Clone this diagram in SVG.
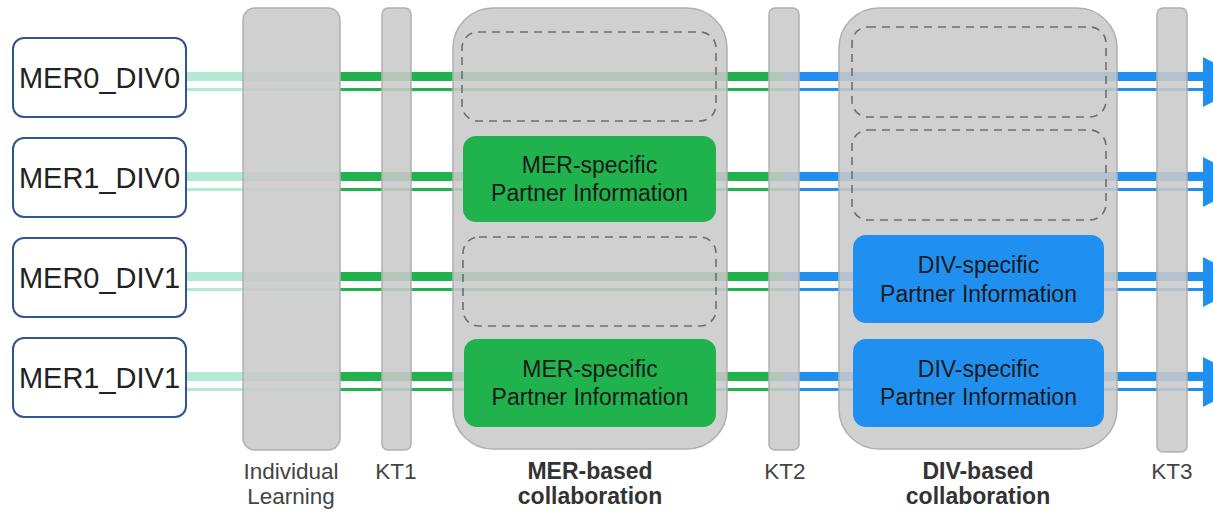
<svg xmlns="http://www.w3.org/2000/svg" width="1213" height="515" viewBox="0 0 1213 515">
<style>
.node{fill:#ffffff;stroke:#2f5597;stroke-width:2}
.nlabel{font-family:"Liberation Sans",Arial,sans-serif;font-size:29px;fill:#222;text-anchor:middle}
.col{fill:#c9c9c9;fill-opacity:0.87;stroke:#b0b0b0;stroke-width:1.5}
.dash{fill:none;stroke:#6e6e6e;stroke-width:1.6;stroke-dasharray:8 6}
.green{fill:#20b24c}
.blue{fill:#2090f0}
.blabel{font-family:"Liberation Sans",Arial,sans-serif;font-size:23px;fill:#1a1a1a;text-anchor:middle}
.cap{font-family:"Liberation Sans",Arial,sans-serif;font-size:22.5px;fill:#444;text-anchor:middle}
.capb{font-family:"Liberation Sans",Arial,sans-serif;font-size:23px;font-weight:bold;fill:#333;text-anchor:middle}
.mint{fill:#b4e9d4}
.lg{fill:#20b24c}
.lb{fill:#2090f0}
</style>
<g id="connectors">
  <g id="row0" transform="translate(0,77)">
    <rect class="mint" x="186" y="-5" width="154" height="9"/><rect class="mint" x="186" y="11" width="154" height="3"/>
    <rect class="lg" x="340" y="-5" width="444" height="9"/><rect class="lg" x="340" y="11" width="444" height="3"/>
    <rect class="lb" x="784" y="-5" width="420" height="9"/><rect class="lb" x="784" y="11" width="420" height="3"/>
    <polygon class="lb" points="1203,-20 1203,30 1250,5"/>
  </g>
  <g id="row1" transform="translate(0,177)">
    <rect class="mint" x="186" y="-5" width="154" height="9"/><rect class="mint" x="186" y="11" width="154" height="3"/>
    <rect class="lg" x="340" y="-5" width="444" height="9"/><rect class="lg" x="340" y="11" width="444" height="3"/>
    <rect class="lb" x="784" y="-5" width="420" height="9"/><rect class="lb" x="784" y="11" width="420" height="3"/>
    <polygon class="lb" points="1203,-20 1203,30 1250,5"/>
  </g>
  <g id="row2" transform="translate(0,277)">
    <rect class="mint" x="186" y="-5" width="154" height="9"/><rect class="mint" x="186" y="11" width="154" height="3"/>
    <rect class="lg" x="340" y="-5" width="444" height="9"/><rect class="lg" x="340" y="11" width="444" height="3"/>
    <rect class="lb" x="784" y="-5" width="420" height="9"/><rect class="lb" x="784" y="11" width="420" height="3"/>
    <polygon class="lb" points="1203,-20 1203,30 1250,5"/>
  </g>
  <g id="row3" transform="translate(0,377)">
    <rect class="mint" x="186" y="-5" width="154" height="9"/><rect class="mint" x="186" y="11" width="154" height="3"/>
    <rect class="lg" x="340" y="-5" width="444" height="9"/><rect class="lg" x="340" y="11" width="444" height="3"/>
    <rect class="lb" x="784" y="-5" width="420" height="9"/><rect class="lb" x="784" y="11" width="420" height="3"/>
    <polygon class="lb" points="1203,-20 1203,30 1250,5"/>
  </g>
</g>
<g id="n-mer0div0"><rect class="node" x="13" y="38" width="173" height="79" rx="11"/><text class="nlabel" x="99.5" y="87.5">MER0_DIV0</text></g>
<g id="n-mer1div0"><rect class="node" x="13" y="138" width="173" height="79" rx="11"/><text class="nlabel" x="99.5" y="187.5">MER1_DIV0</text></g>
<g id="n-mer0div1"><rect class="node" x="13" y="238" width="173" height="79" rx="11"/><text class="nlabel" x="99.5" y="287.5">MER0_DIV1</text></g>
<g id="n-mer1div1"><rect class="node" x="13" y="338" width="173" height="79" rx="11"/><text class="nlabel" x="99.5" y="387.5">MER1_DIV1</text></g>
<g id="individual-learning"><rect class="col" x="243" y="8" width="97" height="442" rx="12"/><text class="cap" x="291" y="479">Individual</text><text class="cap" x="291" y="504">Learning</text></g>
<g id="kt1"><rect class="col" x="382" y="8" width="29" height="442" rx="6"/><text class="cap" x="396" y="479">KT1</text></g>
<g id="mer-collab">
  <rect class="col" x="453" y="8" width="274" height="441" rx="40"/>
  <rect class="dash" x="462" y="32" width="254" height="89" rx="16"/>
  <rect class="green" x="463" y="136" width="253" height="86" rx="13"/>
  <text class="blabel" x="589.5" y="173">MER-specific</text><text class="blabel" x="589.5" y="201">Partner Information</text>
  <rect class="dash" x="463" y="237" width="253" height="89" rx="16"/>
  <rect class="green" x="464" y="339" width="252" height="88" rx="13"/>
  <text class="blabel" x="590" y="377">MER-specific</text><text class="blabel" x="590" y="405">Partner Information</text>
  <text class="capb" x="590" y="479">MER-based</text><text class="capb" x="590" y="504">collaboration</text>
</g>
<g id="kt2"><rect class="col" x="769" y="8" width="30" height="442" rx="6"/><text class="cap" x="785" y="479">KT2</text></g>
<g id="div-collab">
  <rect class="col" x="839" y="8" width="278" height="441" rx="40"/>
  <rect class="dash" x="852" y="27" width="254" height="90" rx="16"/>
  <rect class="dash" x="852" y="130" width="254" height="90" rx="16"/>
  <rect class="blue" x="853" y="235" width="251" height="88" rx="13"/>
  <text class="blabel" x="978.5" y="273">DIV-specific</text><text class="blabel" x="978.5" y="302">Partner Information</text>
  <rect class="blue" x="853" y="339" width="251" height="88" rx="13"/>
  <text class="blabel" x="978.5" y="377">DIV-specific</text><text class="blabel" x="978.5" y="405">Partner Information</text>
  <text class="capb" x="978" y="479">DIV-based</text><text class="capb" x="978" y="504">collaboration</text>
</g>
<g id="kt3"><rect class="col" x="1157" y="8" width="30" height="444" rx="6"/><text class="cap" x="1172" y="479">KT3</text></g>
</svg>
